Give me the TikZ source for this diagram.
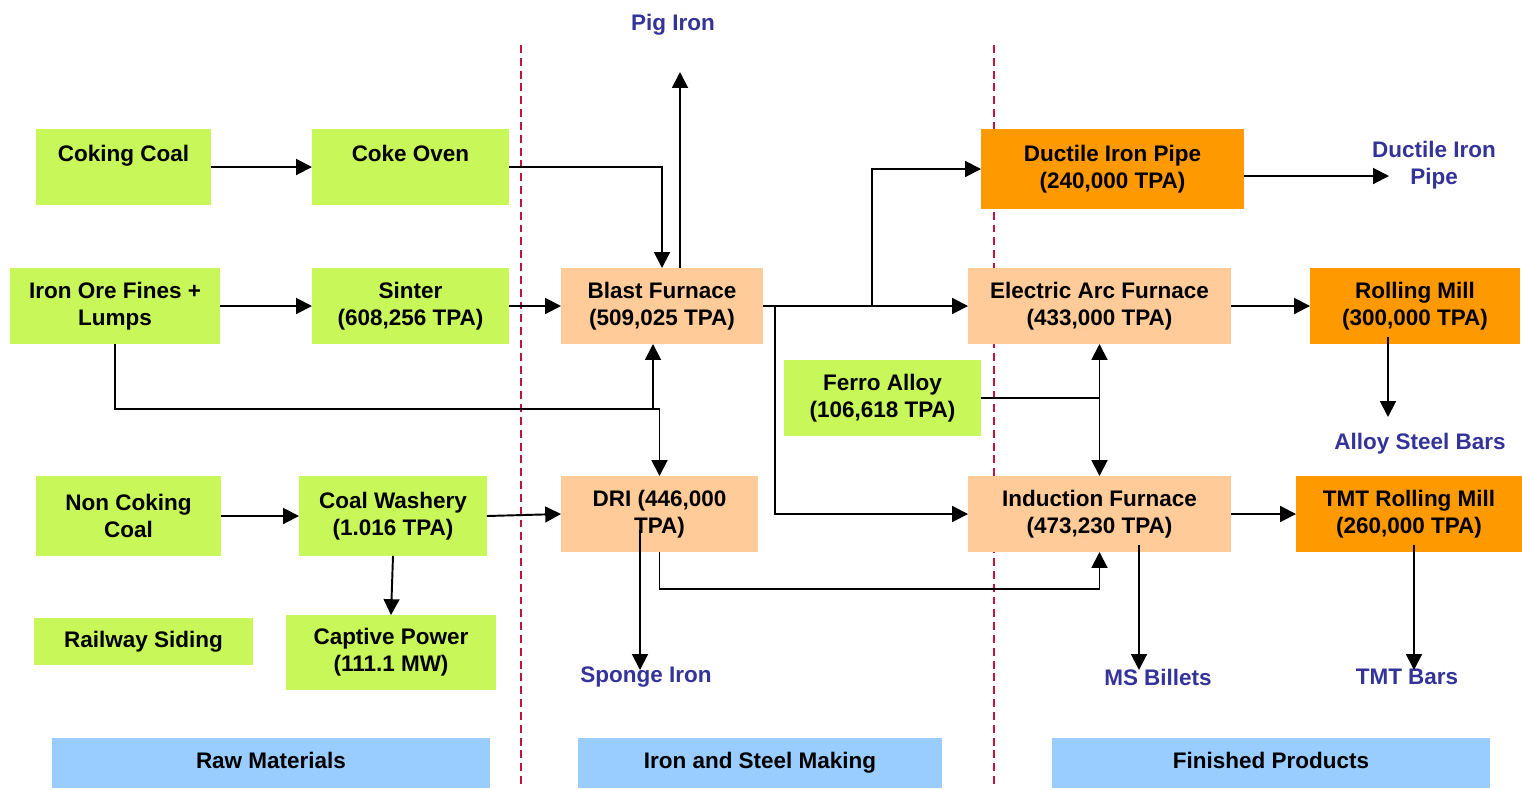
\documentclass[tikz,border=0pt]{standalone}
\usepackage{fontspec}
\setmainfont{Liberation Sans}
\usetikzlibrary{positioning,arrows.meta,calc}
\definecolor{feedgreen}{HTML}{C8F75A}
\definecolor{peach}{HTML}{FFCC99}
\definecolor{amber}{HTML}{FF9900}
\definecolor{skyband}{HTML}{99CCFF}
\definecolor{navy}{HTML}{333399}
\definecolor{divred}{HTML}{C0143C}
\tikzset{
  font=\bfseries\fontsize{12.8}{15.4}\selectfont,
  >={Triangle[length=9pt,width=9pt]},
  %% nodes
  stage/.style   = {inner sep=0pt, outer sep=0pt, align=center,
                    minimum height=1.52cm},
  feed/.style    = {stage, fill=feedgreen},
  furnace/.style = {stage, fill=peach},
  mill/.style    = {stage, fill=amber},
  zone/.style    = {stage, fill=skyband, minimum height=1cm,
                    text height=1.8ex, text depth=0.6ex},
  outlbl/.style  = {inner sep=0pt, align=center, text=navy},
  %% arrows
  flow/.style    = {->, draw=black, line width=1.1pt},
  tie/.style     = {-, draw=black, line width=1.1pt},
  divider/.style = {draw=divred, line width=0.9pt, dash pattern=on 4.5pt off 2.8pt},
}

\begin{document}
\begin{tikzpicture}[x=0.02cm, y=-0.02cm]
\useasboundingbox (0,0) rectangle (1522,789);

%% ============ zone dividers ============
\draw[divider] (521,45) -- (521,785);
\draw[divider] (994,45) -- (994,785);

%% ============ raw materials ============
\node[feed, minimum width=3.5cm]  (coking)   at (123.5,167) {Coking Coal\\\mbox{}};
\node[feed, minimum width=3.94cm] (cokeoven) at (410.5,167) {Coke Oven\\\mbox{}};
\node[feed, minimum width=4.2cm]  (ironore)  at (115,306)   {Iron Ore Fines +\\Lumps};
\node[feed, minimum width=3.94cm] (sinter)   at (410.5,306) {Sinter\\(608,256 TPA)};
\node[feed, minimum width=3.7cm, minimum height=1.6cm]  (nccoal)  at (128.5,516) {Non Coking\\Coal};
\node[feed, minimum width=3.76cm, minimum height=1.6cm] (washery) at (393,516)   {Coal Washery\\(1.016 TPA)};
\node[feed, minimum width=4.38cm, minimum height=0.94cm] (railway) at (143.5,641.5) {Railway Siding};
\node[feed, minimum width=4.2cm, minimum height=1.5cm]   (captive) at (391,652.5)   {Captive Power\\(111.1 MW)};

%% ============ iron and steel making ============
\node[furnace, minimum width=4.04cm] (blast) at (662,306)   {Blast Furnace\\(509,025 TPA)};
\node[furnace, minimum width=3.94cm] (dri)   at (659.5,514) {DRI (446,000\\TPA)};
\node[feed, minimum width=3.94cm]    (ferro) at (882.5,398) {Ferro Alloy\\(106,618 TPA)};
\node[furnace, minimum width=5.26cm] (eaf)       at (1099.5,306) {Electric Arc Furnace\\(433,000 TPA)};
\node[furnace, minimum width=5.26cm] (induction) at (1099.5,514) {Induction Furnace\\(473,230 TPA)};

%% ============ finished products ============
\node[mill, minimum width=5.26cm, minimum height=1.6cm] (ductile) at (1112.5,169) {Ductile Iron Pipe\\(240,000 TPA)};
\node[mill, minimum width=4.2cm]  (rolling) at (1415,306) {Rolling Mill\\(300,000 TPA)};
\node[mill, minimum width=4.52cm] (tmtmill) at (1409,514) {TMT Rolling Mill\\(260,000 TPA)};

%% ============ outputs ============
\node[outlbl] (pig)     at (673,25)    {Pig Iron};
\node[outlbl] (ductout) at (1434,165)  {Ductile Iron\\Pipe};
\node[outlbl] (alloy)   at (1420,444)  {Alloy Steel Bars};
\node[outlbl] (sponge)  at (646,677)   {Sponge Iron};
\node[outlbl] (billets) at (1158,677)  {MS Billets};
\node[outlbl] (tmtbars) at (1407,677)  {TMT Bars};

%% ============ zone bands ============
\node[zone, minimum width=8.76cm] (rawzone)  at (271,763)  {Raw Materials};
\node[zone, minimum width=7.28cm] (makezone) at (760,763)  {Iron and Steel Making};
\node[zone, minimum width=8.76cm] (finzone)  at (1271,763) {Finished Products};

%% ============ flows ============
\draw[flow] (coking) -- (cokeoven);
\draw[flow] (cokeoven.east) -| (blast.north);
\draw[flow] (ironore) -- (sinter);
\draw[flow] (sinter) -- (blast);
\coordinate (orejoin) at (653,409);
\draw[flow] (ironore.south) |- (orejoin -| dri.north) -- (dri.north);
\draw[flow] (orejoin) -- (orejoin |- blast.south);
\draw[flow] (nccoal) -- (washery);
\draw[flow] (washery.east) -- (dri.west);
\draw[flow] (washery.south) -- (captive.north);

\coordinate (pigtip) at (680,72);
\draw[flow] (pigtip |- blast.north) -- (pigtip);
\draw[flow] (blast.east) -- (eaf.west);
\coordinate (bfup)   at (872,306);
\coordinate (bfdown) at (775,306);
\draw[flow] (bfup) |- (ductile.west);
\draw[flow] (bfdown) |- (induction.west);
\draw[flow] (dri.south) -- ++(0,37) -| (induction.south);
\coordinate (spongefrom) at (640,530);
\coordinate (spongetip)  at (640,670);
\draw[flow] (spongefrom) -- (spongetip);
\draw[tie] (ferro.east) -- (ferro.east -| eaf.south);
\draw[flow, <->] (eaf.south) -- (induction.north);

\coordinate (ducttip) at (1389,176);
\draw[flow] (ductile.east |- ducttip) -- (ducttip);
\draw[flow] (eaf) -- (rolling);
\draw[flow] (induction) -- (tmtmill);
\coordinate (rollfrom)  at (1388,337);
\coordinate (alloytip)  at (1388,417);
\draw[flow] (rollfrom) -- (alloytip);
\coordinate (billfrom)  at (1139,545);
\coordinate (billtip)   at (1139,670);
\draw[flow] (billfrom) -- (billtip);
\coordinate (tmtfrom)   at (1414,545);
\coordinate (tmttip)    at (1414,670);
\draw[flow] (tmtfrom) -- (tmttip);

\end{tikzpicture}
\end{document}
